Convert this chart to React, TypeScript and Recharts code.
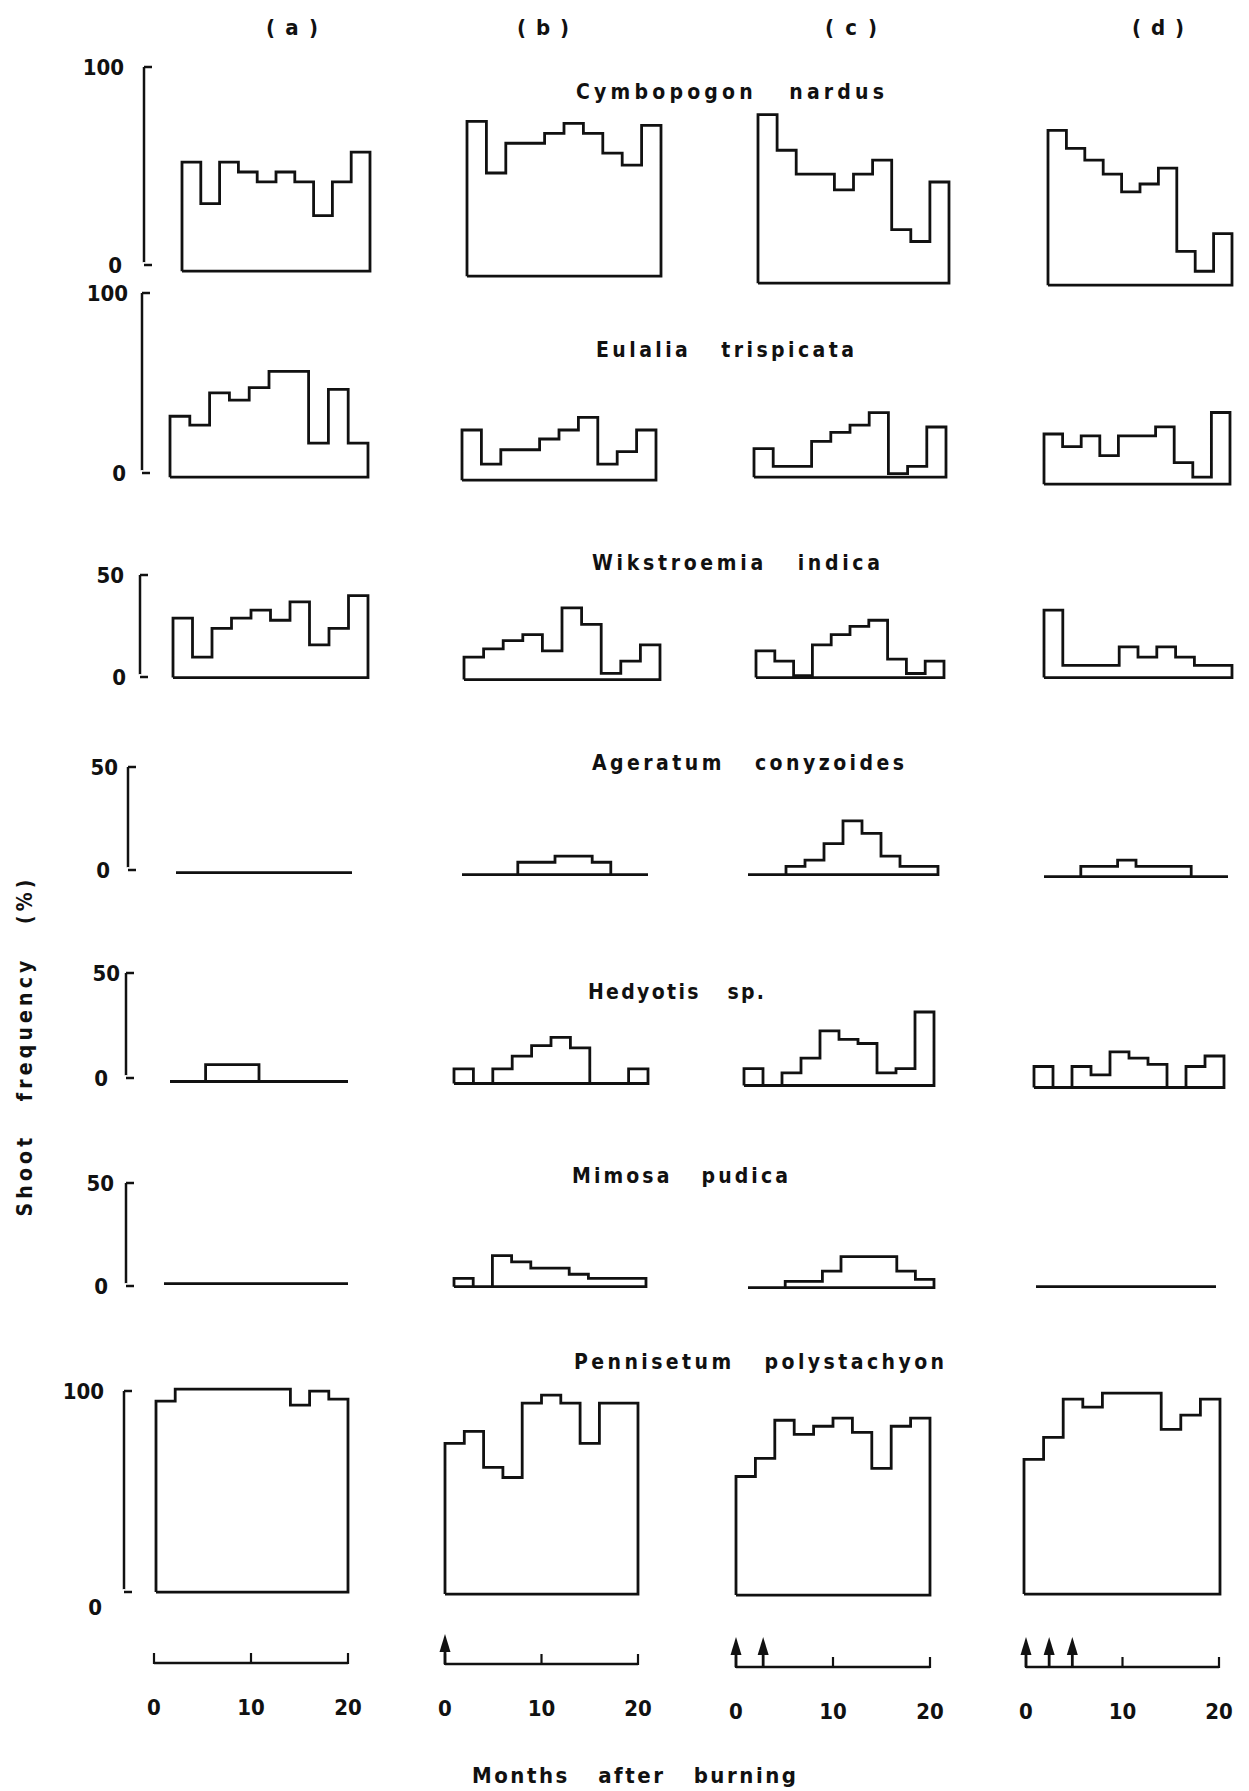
import React from 'react';
import { LineChart, Line, XAxis, YAxis, ComposedChart, Scatter } from 'recharts';

// ---------- DATA ----------
const columnLabels = ['( a )', '( b )', '( c )', '( d )'];
const speciesNames = [
  'Cymbopogon   nardus',
  'Eulalia   trispicata',
  'Wikstroemia   indica',
  'Ageratum   conyzoides',
  'Hedyotis   sp.',
  'Mimosa   pudica',
  'Pennisetum   polystachyon',
];
const yTickMax = [100, 100, 50, 50, 50, 50, 100];
const monthTicks = [0, 10, 20];
const burnMonths = [[], [0], [0, 2.8], [0, 2.4, 4.8]];
const xTitle = 'Months   after   burning';
const yTitle = 'Shoot   frequency   (%)';

// shoot frequency (%) per bimonthly sample, columns (a)..(d)
const cymbopogon = [
  [55, 34, 55, 50, 45, 50, 45, 28, 45, 60],
  [78, 52, 67, 67, 72, 77, 72, 62, 56, 76],
  [85, 67, 55, 55, 47, 55, 62, 27, 21, 51],
  [78, 69, 63, 56, 47, 51, 59, 17, 7, 26],
];
const eulalia = [
  [34, 29, 47, 43, 50, 59, 59, 19, 49, 19],
  [28, 9, 17, 17, 23, 28, 35, 9, 16, 28],
  [16, 6, 6, 20, 25, 29, 36, 2, 6, 28],
  [28, 21, 27, 16, 27, 27, 32, 12, 4, 40],
];
const wikstroemia = [
  [29, 10, 24, 29, 33, 28, 37, 16, 24, 40],
  [11, 15, 19, 22, 14, 35, 27, 3, 9, 17],
  [13, 8, 1, 16, 21, 25, 28, 9, 2, 8],
  [33, 6, 6, 6, 15, 10, 15, 10, 6, 6],
];
const ageratum = [
  [0, 0, 0, 0, 0, 0, 0, 0, 0, 0],
  [0, 0, 0, 6, 6, 9, 9, 6, 0, 0],
  [0, 0, 4, 7, 15, 26, 20, 9, 4, 4],
  [0, 0, 5, 5, 8, 5, 5, 5, 0, 0],
];
const hedyotis = [
  [0, 0, 8, 8, 8, 0, 0, 0, 0, 0],
  [7, 0, 7, 13, 18, 22, 17, 0, 0, 7],
  [8, 0, 6, 13, 26, 22, 20, 6, 8, 35],
  [10, 0, 10, 6, 17, 14, 11, 0, 10, 15],
];
const mimosa = [
  [0, 0, 0, 0, 0, 0, 0, 0, 0, 0],
  [4, 0, 15, 12, 9, 9, 6, 4, 4, 4],
  [0, 0, 3, 3, 8, 15, 15, 15, 8, 4],
  [0, 0, 0, 0, 0, 0, 0, 0, 0, 0],
];
const pennisetum = [
  [95, 101, 101, 101, 101, 101, 101, 93, 100, 96],
  [75, 81, 63, 58, 95, 99, 95, 75, 95, 95],
  [59, 68, 87, 80, 84, 88, 81, 63, 84, 88],
  [67, 78, 97, 93, 100, 100, 100, 82, 89, 97],
];
const speciesData = [cymbopogon, eulalia, wikstroemia, ageratum, hedyotis, mimosa, pennisetum];

// ---------- LAYOUT ----------
const FONT = 'DejaVu Sans, Liberation Sans, sans-serif';
const INK = '#111';
const TEXT_STYLE: any = { fontStretch: 'condensed' };

const ROWS = [
  { scale: 1.983, axis: { x: 144, top: 67, bottom: 265, gapTop: 20, gapBottom: 22, zeroDy: 0 }, title: { cx: 730, cy: 92, w: 308 },
    panels: [[182, 370, 271], [467, 661, 276], [758, 949, 283], [1048, 1232, 285]] },
  { scale: 1.793, axis: { x: 142, top: 293, bottom: 473, gapTop: 14, gapBottom: 16, zeroDy: 0 }, title: { cx: 725, cy: 350, w: 258 },
    panels: [[170, 368, 477], [462, 656, 480], [754, 946, 477], [1044, 1230, 484]] },
  { scale: 2.047, axis: { x: 140, top: 575, bottom: 677, gapTop: 16, gapBottom: 14, zeroDy: 0 }, title: { cx: 736, cy: 563, w: 288 },
    panels: [[173, 368, 678], [464, 660, 680], [756, 944, 678], [1044, 1232, 678]] },
  { scale: 2.067, axis: { x: 128, top: 767, bottom: 870, gapTop: 10, gapBottom: 18, zeroDy: 0 }, title: { cx: 748, cy: 763, w: 312 },
    panels: [[176, 352, 873], [462, 648, 875], [748, 938, 875], [1044, 1228, 877]] },
  { scale: 2.1, axis: { x: 126, top: 973, bottom: 1078, gapTop: 6, gapBottom: 18, zeroDy: 0 }, title: { cx: 676, cy: 992, w: 176 },
    panels: [[170, 348, 1081], [454, 648, 1083], [744, 934, 1085], [1034, 1224, 1087]] },
  { scale: 2.067, axis: { x: 126, top: 1183, bottom: 1286, gapTop: 12, gapBottom: 18, zeroDy: 0 }, title: { cx: 680, cy: 1176, w: 216 },
    panels: [[164, 348, 1284], [454, 646, 1287], [748, 934, 1288], [1036, 1216, 1287]] },
  { scale: 2.01, axis: { x: 124, top: 1391, bottom: 1592, gapTop: 20, gapBottom: 22, zeroDy: 15 }, title: { cx: 759, cy: 1362, w: 370 },
    panels: [[156, 348, 1592], [445, 638, 1594], [736, 930, 1595], [1024, 1220, 1594]] },
];
const BOTTOM_AXES = [[154, 348, 1663], [445, 638, 1664], [736, 930, 1667], [1026, 1219, 1667]];
const COL_LABEL_POS = [[292, 27], [543, 27], [851, 27], [1158, 27]];

function buildOutline(values: number[]) {
  const pts: { x: number; y: number }[] = [{ x: 0, y: 0 }];
  values.forEach((v, i) => {
    pts.push({ x: i, y: v });
    pts.push({ x: i + 1, y: v });
  });
  pts.push({ x: values.length, y: 0 });
  pts.push({ x: 0, y: 0 });
  return pts;
}

function Panel({ values, left, right, base, scale, dom }: any) {
  const m = 3;
  const plotH = scale * dom;
  return (
    <div style={{ position: 'absolute', left: left - m, top: base - plotH - m }}>
      <LineChart width={right - left + 2 * m} height={plotH + 2 * m} data={buildOutline(values)}
        margin={{ top: m, right: m, bottom: m, left: m }}>
        <XAxis type="number" dataKey="x" domain={[0, values.length]} hide />
        <YAxis type="number" domain={[0, dom]} hide />
        <Line type="linear" dataKey="y" stroke={INK} strokeWidth={2.8} strokeLinejoin="miter"
          dot={false} activeDot={false} isAnimationActive={false} />
      </LineChart>
    </div>
  );
}

function RowAxis({ axis, tickMax }: any) {
  const m = 30;
  const h = axis.bottom - axis.top;
  const YTick = (p: any) => {
    const { x, y, payload } = p;
    const zero = payload.value === 0;
    return (
      <g>
        <line x1={x} y1={y} x2={x + 8} y2={y} stroke={INK} strokeWidth={2.5} />
        <text x={x - (zero ? axis.gapBottom : axis.gapTop)} y={y + (zero ? axis.zeroDy : 0)} textAnchor="end"
          dominantBaseline="central" fontSize={22} fontWeight="bold" fontFamily={FONT} fill={INK}
          style={TEXT_STYLE}>{payload.value}</text>
      </g>
    );
  };
  return (
    <div style={{ position: 'absolute', left: 0, top: axis.top - m }}>
      <LineChart width={axis.x + 20} height={h + 2 * m} data={[{ x: 0, y: 0 }]} margin={{ top: m, right: 0, bottom: m, left: 0 }}>
        <XAxis type="number" dataKey="x" domain={[0, 1]} hide />
        <YAxis type="number" domain={[0, tickMax]} ticks={[0, tickMax]} interval={0} width={axis.x}
          axisLine={{ stroke: INK, strokeWidth: 2.5 }} tickLine={false} tickSize={0} tickMargin={0} tick={YTick} />
        <Line dataKey="y" stroke="none" dot={false} activeDot={false} isAnimationActive={false} />
      </LineChart>
    </div>
  );
}

function MonthAxis({ left, right, base, burns }: any) {
  const mx = 14, top = 36, ph = 4, axH = 60;
  const XTick = (p: any) => {
    const { x, y, payload } = p;
    return (
      <g>
        <line x1={x} y1={y + 1} x2={x} y2={y - 10} stroke={INK} strokeWidth={2.2} />
        <text x={x} y={y + 44} textAnchor="middle" dominantBaseline="central" fontSize={22} fontWeight="bold"
          fontFamily={FONT} fill={INK} style={TEXT_STYLE}>{payload.value}</text>
      </g>
    );
  };
  const ArrowShape = (p: any) => {
    const { cx, cy } = p;
    return (
      <g>
        <line x1={cx} y1={cy} x2={cx} y2={cy - 16} stroke={INK} strokeWidth={2.8} />
        <polygon points={`${cx - 5.5},${cy - 12} ${cx + 5.5},${cy - 12} ${cx},${cy - 30}`} fill={INK} />
      </g>
    );
  };
  return (
    <div style={{ position: 'absolute', left: left - mx, top: base - top - ph }}>
      <ComposedChart width={right - left + 2 * mx} height={top + ph + axH}
        margin={{ top, right: mx, bottom: 0, left: mx }} data={[{ x: 0, y: 0 }, { x: 20, y: 0 }]}>
        <XAxis type="number" dataKey="x" domain={[0, 20]} ticks={monthTicks} interval={0} height={axH}
          axisLine={{ stroke: INK, strokeWidth: 2.5 }} tickLine={false} tickSize={0} tickMargin={0} tick={XTick} />
        <YAxis type="number" dataKey="y" domain={[0, 1]} hide />
        <Line dataKey="y" stroke="none" dot={false} activeDot={false} isAnimationActive={false} />
        {burns.length > 0 && (
          <Scatter data={burns.map((b: number) => ({ x: b, y: 0 }))} dataKey="y" shape={ArrowShape} isAnimationActive={false} />
        )}
      </ComposedChart>
    </div>
  );
}

export default function App() {
  return (
    <div style={{ position: 'absolute', left: 0, top: 0, width: 1249, height: 1791, background: '#fff', overflow: 'hidden' }}>
      <svg width={1249} height={1791} style={{ position: 'absolute', left: 0, top: 0 }}>
        {columnLabels.map((t, i) => (
          <text key={t} x={COL_LABEL_POS[i][0]} y={COL_LABEL_POS[i][1]} textAnchor="middle" dominantBaseline="central"
            fontSize={22} fontWeight="bold" fontFamily={FONT} fill={INK} xmlSpace="preserve" textLength={52}
            lengthAdjust="spacing" style={TEXT_STYLE}>{t}</text>
        ))}
        {speciesNames.map((t, i) => (
          <text key={t} x={ROWS[i].title.cx} y={ROWS[i].title.cy} textAnchor="middle" dominantBaseline="central"
            fontSize={21} fontWeight="bold" fontFamily={FONT} fill={INK} xmlSpace="preserve" textLength={ROWS[i].title.w}
            lengthAdjust="spacing" style={TEXT_STYLE}>{t}</text>
        ))}
        <text x={634} y={1775} textAnchor="middle" dominantBaseline="central" fontSize={22} fontWeight="bold"
          fontFamily={FONT} fill={INK} xmlSpace="preserve" textLength={324} lengthAdjust="spacing"
          style={TEXT_STYLE}>{xTitle}</text>
        <text x={25} y={1048} transform="rotate(-90 25 1048)" textAnchor="middle" dominantBaseline="central"
          fontSize={21} fontWeight="bold" fontFamily={FONT} fill={INK} xmlSpace="preserve" textLength={337}
          lengthAdjust="spacing" style={TEXT_STYLE}>{yTitle}</text>
      </svg>
      {ROWS.map((row, r) => (
        <React.Fragment key={r}>
          <RowAxis axis={row.axis} tickMax={yTickMax[r]} />
          {row.panels.map((p, c) => (
            <Panel key={c} values={speciesData[r][c]} left={p[0]} right={p[1]} base={p[2]}
              scale={row.scale} dom={yTickMax[r] * 1.1} />
          ))}
        </React.Fragment>
      ))}
      {BOTTOM_AXES.map((b, c) => (
        <MonthAxis key={c} left={b[0]} right={b[1]} base={b[2]} burns={burnMonths[c]} />
      ))}
    </div>
  );
}
